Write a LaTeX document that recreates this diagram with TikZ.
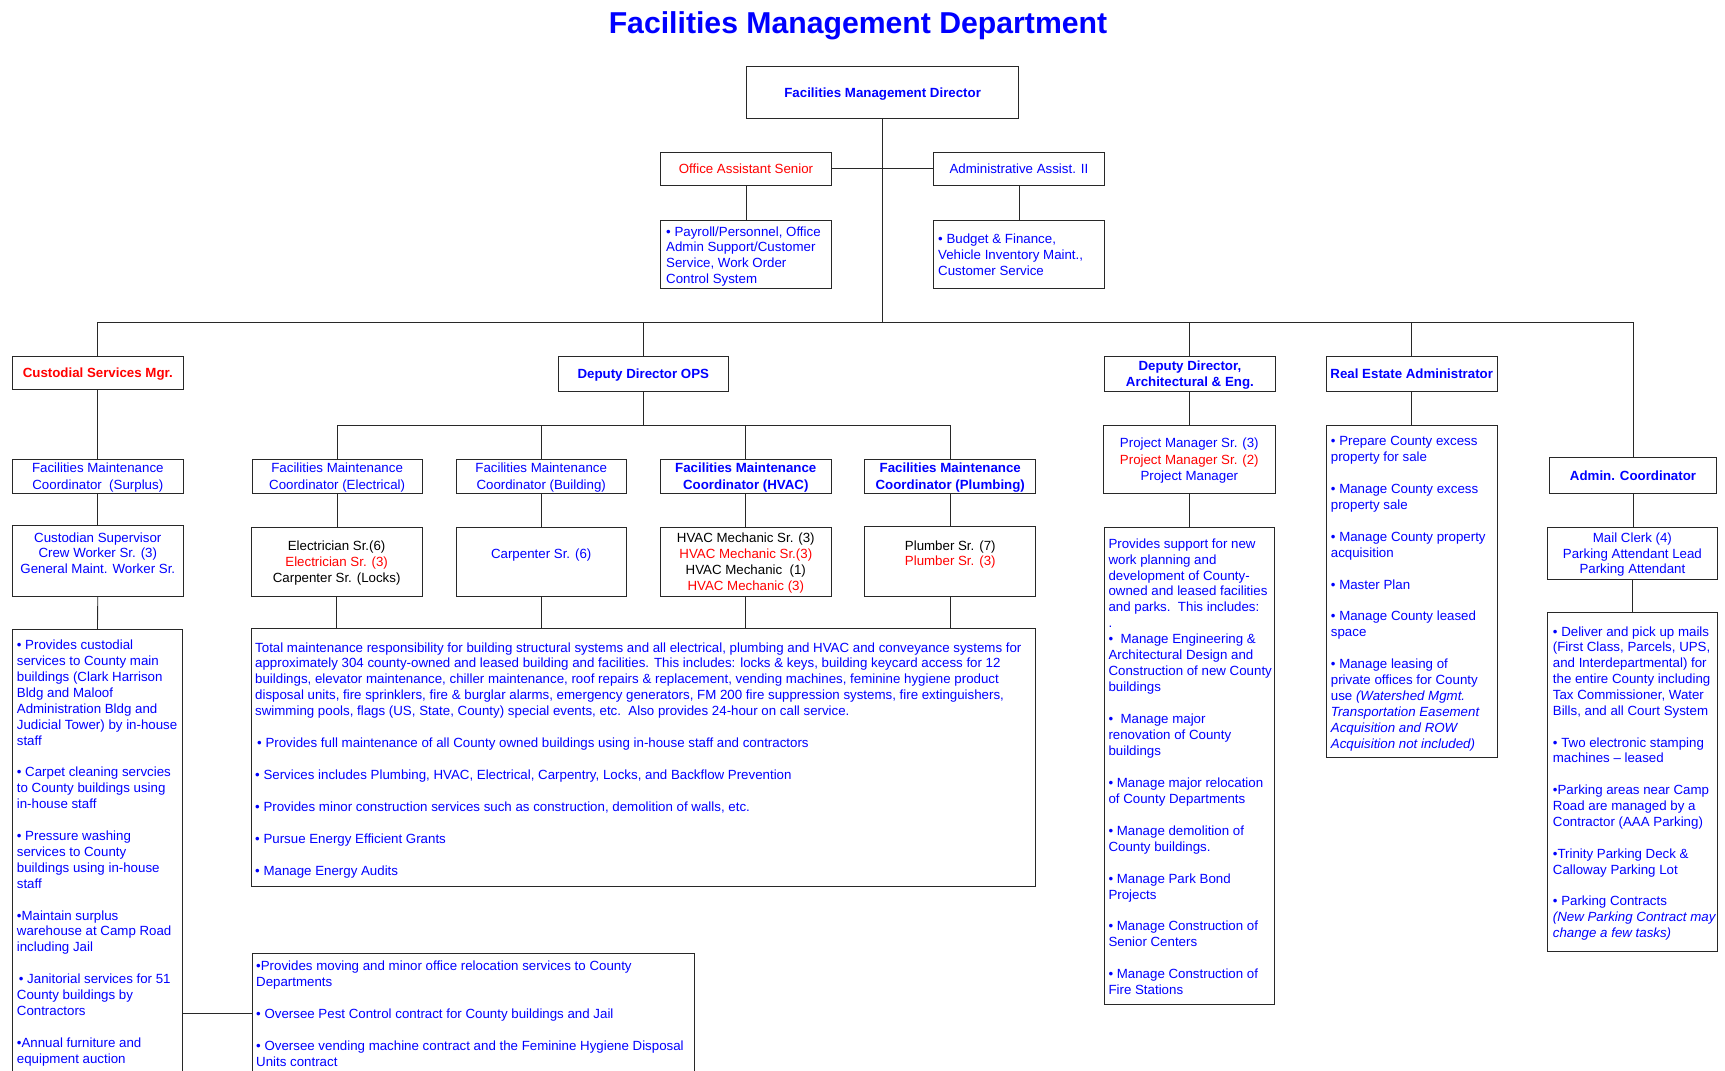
\documentclass[tikz,border=0pt]{standalone}
\usepackage{fontspec}
\setmainfont{Liberation Sans}
\definecolor{tblue}{RGB}{0,0,255}
\definecolor{tred}{RGB}{255,0,0}
\definecolor{linec}{RGB}{40,40,40}
\newcommand{\fsz}{\fontsize{13.3}{15.8}\selectfont}
\newcommand{\fszb}[1]{\fontsize{13.3}{#1}\selectfont}
\begin{document}
\begin{tikzpicture}[x=1pt,y=-1pt,
  box/.style={draw=linec, line width=0.9pt, inner sep=0pt, anchor=north west, font=\fsz, text=tblue, align=center, text depth=0pt},
  bbox/.style={box, font=\fsz\bfseries},
  ltext/.style={anchor=west, inner sep=0pt, align=left, text=tblue, text depth=0pt},
  conn/.style={draw=linec, line width=0.9pt}]
\useasboundingbox (0,0) rectangle (1725,1071);
\clip (0,0) rectangle (1725,1071);
\coordinate (busy) at (0,322);
\coordinate (opsy) at (0,425);

% title
\node[font=\bfseries\fontsize{30.2}{36}\selectfont, text=tblue, anchor=base, inner sep=0pt] (title) at (858,33.5) {Facilities Management Department};

% top
\node[bbox, line width=1.3pt, minimum width=272pt, minimum height=52pt] (dir) at (746,66) {Facilities Management Director};
\node[box, text=tred, minimum width=171pt, minimum height=33.3pt] (oas) at (660,151.7) {Office Assistant Senior};
\node[box, minimum width=171pt, minimum height=33.3pt] (aa2) at (933,151.7) {Administrative Assist. II};
\node[box, minimum width=171pt, minimum height=68.3pt] (pay) at (660,220) {};
\node[ltext, font=\fszb{15.9}, xshift=6pt, yshift=-0.5pt] (paytext) at (pay.west) {• Payroll/Personnel, Office\\Admin Support/Customer\\Service, Work Order\\Control System};
\node[box, minimum width=171pt, minimum height=68.3pt] (bud) at (933,220) {};
\node[ltext, font=\fszb{15.7}, xshift=5pt] (budtext) at (bud.west) {• Budget \& Finance,\\Vehicle Inventory Maint.,\\Customer Service};

% second level
\node[bbox, text=tred, minimum width=170.7pt, minimum height=32.7pt] (cmgr) at (12,356) {Custodial Services Mgr.};
\node[bbox, minimum width=170.3pt, minimum height=35pt] (ddops) at (557.7,356) {Deputy Director OPS};
\node[bbox, minimum width=170.5pt, minimum height=35pt, font=\fszb{15.7}\bfseries] (ddae) at (1104.2,356) {Deputy Director,\\Architectural \& Eng.};
\node[bbox, minimum width=170.6pt, minimum height=35pt] (rea) at (1326,356) {Real Estate Administrator};
\node[bbox, minimum width=167.3pt, minimum height=35.4pt] (admc) at (1548.9,457.3) {Admin. Coordinator};

% custodial column
\node[box, minimum width=170.7pt, minimum height=34pt, font=\fszb{16.6}] (fmcs) at (12,458.7) {Facilities Maintenance\\Coordinator\ \ (Surplus)};
\node[box, minimum width=170.7pt, minimum height=70.4pt] (csup) at (12,525.3) {Custodian Supervisor\\Crew Worker Sr. (3)\\General Maint. Worker Sr.\\\mbox{}};
\node[box, minimum width=170.6pt, minimum height=470pt] (cbul) at (11.7,629.3) {};
\node[ltext, anchor=north west, font=\fszb{15.9}, xshift=5pt, yshift=-10.6pt] (cbultext) at (cbul.north west) {• Provides custodial\\services to County main\\buildings (Clark Harrison\\Bldg and Maloof\\Administration Bldg and\\Judicial Tower) by in-house\\staff\\[15.9pt]• Carpet cleaning servcies\\to County buildings using\\in-house staff\\[15.9pt]• Pressure washing\\services to County\\buildings using in-house\\staff\\[15.9pt]•Maintain surplus\\warehouse at Camp Road\\including Jail\\[15.9pt]\hspace{2pt}• Janitorial services for 51\\County buildings by\\Contractors\\[15.9pt]•Annual furniture and\\equipment auction};
\node[box, minimum width=442.3pt, minimum height=120pt] (mov) at (251.7,953.3) {};
\node[ltext, font=\fszb{16.1}, xshift=4.3pt] (movtext) at (mov.west) {•Provides moving and minor office relocation services to County\\Departments\\[16.1pt]• Oversee Pest Control contract for County buildings and Jail\\[16.1pt]• Oversee vending machine contract and the Feminine Hygiene Disposal\\Units contract};

% OPS coordinators
\node[box, minimum width=170.4pt, minimum height=34pt, font=\fszb{16.6}] (fmce) at (251.5,458.7) {Facilities Maintenance\\Coordinator (Electrical)};
\node[box, minimum width=170.5pt, minimum height=34pt, font=\fszb{16.6}] (fmcb) at (455.5,458.7) {Facilities Maintenance\\Coordinator (Building)};
\node[bbox, minimum width=170.7pt, minimum height=34pt, font=\fszb{16.6}\bfseries] (fmch) at (660,458.7) {Facilities Maintenance\\Coordinator (HVAC)};
\node[bbox, minimum width=171pt, minimum height=34pt, font=\fszb{16.6}\bfseries] (fmcp) at (864.3,458.7) {Facilities Maintenance\\Coordinator (Plumbing)};

% staff
\node[box, text=black, minimum width=171.4pt, minimum height=69pt] (elec) at (250.5,526.7) {Electrician Sr.(6)\\\textcolor{tred}{Electrician Sr. (3)}\\Carpenter Sr. (Locks)};
\node[box, minimum width=170.5pt, minimum height=69pt] (carp) at (455.5,526.7) {Carpenter Sr. (6)\\\mbox{}};
\node[box, text=black, minimum width=170.7pt, minimum height=69pt, font=\fszb{16.1}] (hvac) at (660,526.7) {HVAC Mechanic Sr. (3)\\\textcolor{tred}{HVAC Mechanic Sr.(3)}\\HVAC Mechanic\ \ (1)\\\textcolor{tred}{HVAC Mechanic (3)}};
\node[box, text=black, minimum width=171pt, minimum height=70.2pt, font=\fszb{15.3}] (plum) at (864.3,525.5) {Plumber Sr. (7)\\\textcolor{tred}{Plumber Sr. (3)}\\\mbox{}};

\node[box, minimum width=784.2pt, minimum height=257.2pt] (mbig) at (250.8,628.3) {};
\node[ltext, font=\fszb{15.95}, xshift=4.2pt, yshift=-1.5pt] (mbigtext) at (mbig.west) {Total maintenance responsibility for building structural systems and all electrical, plumbing and HVAC and conveyance systems for\\approximately 304 county-owned and leased building and facilities. This includes: locks \& keys, building keycard access for 12\\buildings, elevator maintenance, chiller maintenance, roof repairs \& replacement, vending machines, feminine hygiene product\\disposal units, fire sprinklers, fire \& burglar alarms, emergency generators, FM 200 fire suppression systems, fire extinguishers,\\swimming pools, flags (US, State, County) special events, etc.\ \ Also provides 24-hour on call service.\\[15.95pt]\hspace{2pt}• Provides full maintenance of all County owned buildings using in-house staff and contractors\\[15.95pt]• Services includes Plumbing, HVAC, Electrical, Carpentry, Locks, and Backflow Prevention\\[15.95pt]• Provides minor construction services such as construction, demolition of walls, etc.\\[15.95pt]• Pursue Energy Efficient Grants\\[15.95pt]• Manage Energy Audits};

% architecture column
\node[box, minimum width=171.7pt, minimum height=67.7pt, font=\fszb{16.4}] (pm) at (1103,425) {Project Manager Sr. (3)\\\textcolor{tred}{Project Manager Sr. (2)}\\Project Manager};
\node[box, minimum width=170.3pt, minimum height=477.3pt] (abul) at (1104,526.7) {};
\node[ltext, font=\fszb{15.95}, xshift=4.3pt, yshift=-0.8pt] (abultext) at (abul.west) {Provides support for new\\work planning and\\development of County-\\owned and leased facilities\\and parks.\ \ This includes:\\.\\•\ \ Manage Engineering \&\\Architectural Design and\\Construction of new County\\buildings\\[15.95pt]•\ \ Manage major\\renovation of County\\buildings\\[15.95pt]• Manage major relocation\\of County Departments\\[15.95pt]• Manage demolition of\\County buildings.\\[15.95pt]• Manage Park Bond\\Projects\\[15.95pt]• Manage Construction of\\Senior Centers\\[15.95pt]• Manage Construction of\\Fire Stations};

% real estate
\node[box, minimum width=171pt, minimum height=332.3pt] (rbul) at (1325.7,425) {};
\node[ltext, font=\fszb{15.92}, xshift=5pt, yshift=-0.8pt] (rbultext) at (rbul.west) {• Prepare County excess\\property for sale\\[15.92pt]• Manage County excess\\property sale\\[15.92pt]• Manage County property\\acquisition\\[15.92pt]• Master Plan\\[15.92pt]• Manage County leased\\space\\[15.92pt]• Manage leasing of\\private offices for County\\use \textit{(Watershed Mgmt.}\\\textit{Transportation Easement}\\\textit{Acquisition and ROW}\\\textit{Acquisition not included)}};

% admin coordinator
\node[box, minimum width=170.9pt, minimum height=52.6pt, font=\fszb{15.7}] (mail) at (1546.5,526.7) {Mail Clerk (4)\\Parking Attendant Lead\\Parking Attendant};
\node[box, minimum width=170pt, minimum height=338.4pt] (mbul) at (1546.7,612.3) {};
\node[ltext, font=\fszb{15.86}, xshift=6pt] (mbultext) at (mbul.west) {• Deliver and pick up mails\\(First Class, Parcels, UPS,\\and Interdepartmental) for\\the entire County including\\Tax Commissioner, Water\\Bills, and all Court System\\[15.86pt]• Two electronic stamping\\machines – leased\\[15.86pt]•Parking areas near Camp\\Road are managed by a\\Contractor (AAA Parking)\\[15.86pt]•Trinity Parking Deck \&\\Calloway Parking Lot\\[15.86pt]• Parking Contracts\\\textit{(New Parking Contract may}\\\textit{change a few tasks)}};

% connectors
\draw[conn] (dir.south) -- (dir.south |- busy);
\draw[conn] (oas.east) -- (aa2.west);
\draw[conn] (oas.south) -- (pay.north);
\draw[conn] (aa2.south) -- (bud.north);
\draw[conn] (cmgr.north) -- (cmgr.north |- busy) -- (admc.north |- busy) -- (admc.north);
\draw[conn] (ddops.north) -- (ddops.north |- busy);
\draw[conn] (ddae.north) -- (ddae.north |- busy);
\draw[conn] (rea.north) -- (rea.north |- busy);
\draw[conn] (cmgr.south) -- (fmcs.north);
\draw[conn] (fmcs.south) -- (csup.north);
\draw[conn] (csup.south) -- (cbul.north);
\draw[conn] (mov.west -| cbul.east) -- (mov.west);
\draw[conn] (ddops.south) -- (ddops.south |- opsy);
\draw[conn] (fmce.north) -- (fmce.north |- opsy) -- (fmcp.north |- opsy) -- (fmcp.north);
\draw[conn] (fmcb.north) -- (fmcb.north |- opsy);
\draw[conn] (fmch.north) -- (fmch.north |- opsy);
\draw[conn] (fmce.south) -- (elec.north -| fmce.south);
\draw[conn] (fmcb.south) -- (carp.north);
\draw[conn] (fmch.south) -- (hvac.north);
\draw[conn] (fmcp.south) -- (plum.north);
\draw[conn] (elec.south) -- (elec.south |- mbig.north);
\draw[conn] (carp.south) -- (carp.south |- mbig.north);
\draw[conn] (hvac.south) -- (hvac.south |- mbig.north);
\draw[conn] (plum.south) -- (plum.south |- mbig.north);
\draw[conn] (ddae.south) -- ++(0,18) -| (pm.north);
\draw[conn] (pm.south) -- (pm.south |- abul.north);
\draw[conn] (rea.south) -- (rea.south |- rbul.north);
\draw[conn] (admc.south) -- (admc.south |- mail.north);
\draw[conn] (mail.south) -- (mail.south |- mbul.north);
\end{tikzpicture}
\end{document}
